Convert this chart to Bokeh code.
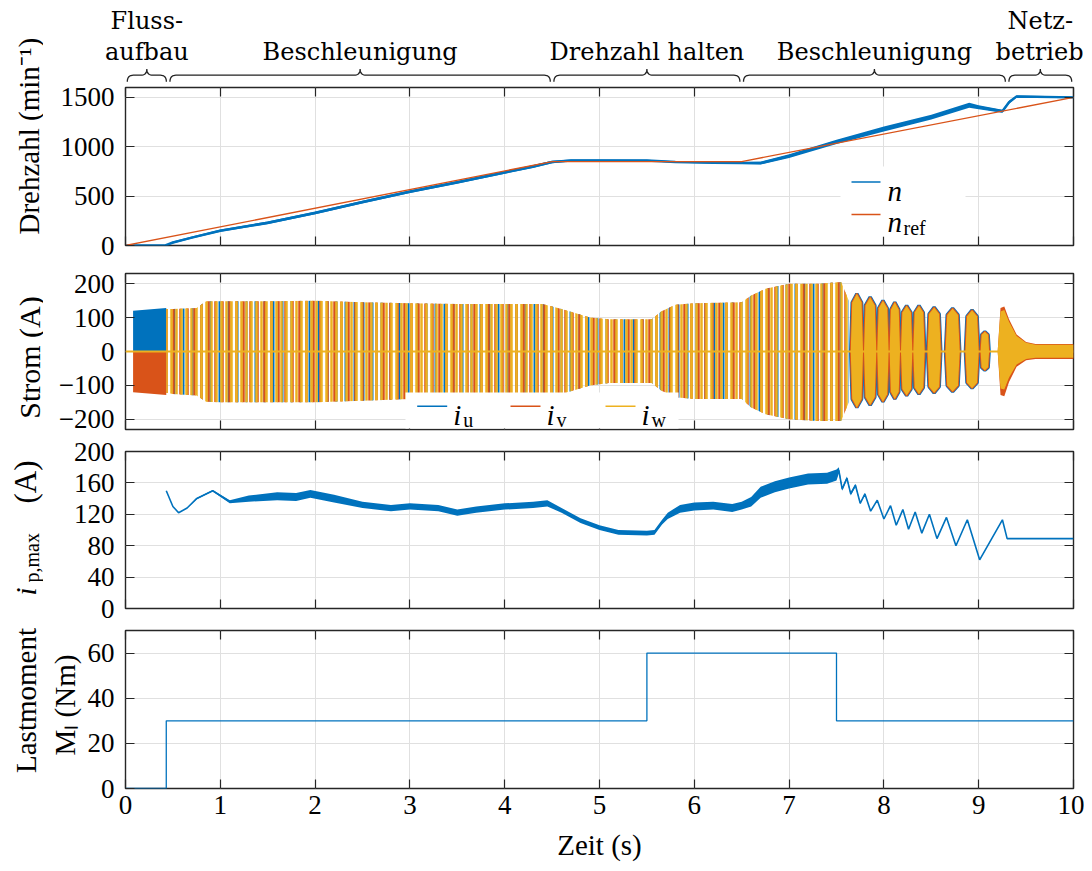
import numpy as np
from bokeh.plotting import figure
from bokeh.layouts import column, row
from bokeh.models import Range1d, LinearAxis, Label, BoxAnnotation, FixedTicker, Span, Title
from bokeh.core.properties import value
from bokeh.embed import file_html
from bokeh.resources import INLINE

# ---------------- data ----------------
phase_start = [0.0, 0.45, 4.5, 6.5, 9.3]
phase_end = [0.45, 4.5, 6.5, 9.3, 10.0]
phase_line1 = ["Fluss-", "", "", "", "Netz-"]
phase_line2 = ["aufbau", "Beschleunigung", "Drehzahl halten", "Beschleunigung", "betrieb"]

x_ticks = [0, 1, 2, 3, 4, 5, 6, 7, 8, 9, 10]
n_ticks = [0, 500, 1000, 1500]
i_ticks = [-200, -100, 0, 100, 200]
ip_ticks = [0, 40, 80, 120, 160, 200]
m_ticks = [0, 20, 40, 60]

# speed reference and measured speed
nref_t = [0.0, 4.5, 6.5, 10.0]
nref_v = [0, 850, 850, 1500]
n_t = [0.0, 0.42, 0.5, 0.7, 1.0, 1.5, 2.0, 2.5, 3.0, 3.5, 4.0, 4.3, 4.5, 4.7, 5.0,
       5.5, 5.8, 6.2, 6.5, 6.7, 7.0, 7.5, 8.0, 8.5, 8.9, 9.0, 9.25, 9.32, 9.4, 10.0]
n_v = [0, 0, 30, 80, 150, 230, 330, 440, 545, 640, 740, 800, 845, 860, 862,
       860, 845, 838, 835, 835, 905, 1050, 1180, 1300, 1420, 1400, 1360, 1450, 1510, 1500]
n_noise = [0, 0, 10, 10, 12, 14, 14, 14, 14, 14, 14, 14, 12, 10, 8,
           8, 8, 8, 10, 14, 20, 22, 25, 25, 25, 20, 15, 15, 10, 8]

# phase currents: flux build-up, envelope of the oscillating part, bursts, tail
flux_t = [0.08, 0.43]
iu_flux = [120, 128]
iv_flux = [-120, -128]
cur_t = [0.43, 0.5, 0.75, 0.85, 1.0, 1.5, 2.0, 2.5, 3.0, 3.5, 4.0, 4.4, 4.6, 4.9, 5.1,
         5.55, 5.65, 5.8, 6.0, 6.5, 6.6, 6.75, 7.0, 7.3, 7.55, 7.63]
cur_hi = [125, 125, 128, 148, 148, 148, 150, 145, 142, 140, 140, 140, 125, 100, 95,
          95, 118, 138, 142, 145, 165, 185, 200, 200, 205, 150]
cur_lo = [-122, -125, -130, -148, -150, -150, -150, -145, -140, -140, -138, -138, -125, -100, -93,
          -93, -115, -135, -140, -140, -165, -185, -200, -205, -205, -150]
burst_start = [7.65, 7.79, 7.93, 8.06, 8.18, 8.31, 8.46, 8.65, 8.86, 9.02]
burst_end = [7.78, 7.92, 8.05, 8.17, 8.30, 8.43, 8.60, 8.80, 9.00, 9.11]
burst_hi = [170, 160, 150, 145, 135, 135, 130, 127, 122, 58]
burst_lo = [-165, -158, -148, -140, -130, -125, -122, -118, -108, -55]
tail_t = [9.20, 9.23, 9.27, 9.32, 9.40, 9.50, 9.60, 10.0]
tail_hi = [0, 128, 133, 95, 50, 28, 22, 22]
tail_lo = [0, -128, -132, -90, -45, -26, -22, -22]

# peak current i_p,max (centre line and ripple half-width)
ip_t = [0.43, 0.5, 0.56, 0.65, 0.75, 0.92, 1.1, 1.3, 1.6, 1.8,
        1.95, 2.2, 2.5, 2.8, 3.0, 3.3, 3.5, 3.7, 4.0, 4.3,
        4.45, 4.6, 4.8, 5.0, 5.2, 5.5, 5.58, 5.66, 5.72, 5.85,
        6.0, 6.2, 6.4, 6.5, 6.6, 6.7, 6.85, 7.0, 7.2, 7.4,
        7.5, 7.525,
        7.56, 7.61, 7.65, 7.70, 7.75, 7.80, 7.86, 7.93, 8.00, 8.07,
        8.13, 8.20, 8.26, 8.33, 8.40, 8.48, 8.56, 8.66, 8.76, 8.88,
        9.01, 9.25, 9.30, 10.0]
ip_v = [150, 130, 122, 128, 140, 150, 136, 140, 143, 142,
        146, 140, 132, 128, 130, 128, 122, 126, 130, 132,
        134, 125, 112, 103, 97, 96, 97, 110, 118, 127,
        130, 131, 128, 131, 136, 148, 155, 160, 165, 166,
        170, 176,
        152, 166, 146, 157, 134, 146, 124, 138, 114, 131,
        106, 126, 101, 123, 96, 120, 89, 116, 80, 113,
        62, 113, 89, 89]
ip_ripple = [0, 0, 0, 0, 1, 1, 2, 4, 5, 5,
             5, 5, 4, 4, 4, 4, 4, 4, 4, 4,
             4, 3, 3, 3, 3, 3, 3, 3, 4, 5,
             5, 5, 5, 5, 6, 7, 7, 7, 7, 7,
             7, 4,
             2, 2, 2, 2, 1, 1, 0, 0, 0, 0,
             0, 0, 0, 0, 0, 0, 0, 0, 0, 0,
             0, 0, 0, 0]

# load torque
m_t = [0.0, 0.43, 0.43, 5.5, 5.5, 7.5, 7.5, 10.0]
m_v = [0, 0, 30, 30, 60, 60, 30, 30]

# ---------------- style ----------------
BLUE, ORANGE, YELLOW = "#0072BD", "#D95319", "#EDB120"
AX = "#262626"
GRID = "#e0e0e0"
TICK_FONT = "Liberation Serif"
LABEL_FONT = "Liberation Serif"
NOTE_FONT = "DejaVu Serif"
STRIP_W = 43
FRAME_W, LEFT, RIGHT = 948, 81, 11
X0, X1 = x_ticks[0], x_ticks[-1]
PX = (X1 - X0) / FRAME_W
HAS_STANDOFF = "standoff" in Title.properties()
# vertical budget (figure heights): top strip, four panels
H0_TOP, H0_FRAME = 68, 18
P_SPECS = [(1, 158, 14), (14, 156, 11), (11, 157, 11), (11, 158, 76)]
H_TOTAL = H0_TOP + H0_FRAME + sum(a + b + c for a, b, c in P_SPECS)


def style_axis(ax, ticks, show_labels, standoff=11, overrides=None):
    ax.ticker = FixedTicker(ticks=ticks)
    ax.major_tick_in = 9
    ax.major_tick_out = 0
    ax.minor_tick_in = 0
    ax.minor_tick_out = 0
    ax.major_tick_line_color = AX
    ax.major_tick_line_width = 1.2
    ax.axis_line_color = None
    if show_labels:
        ax.major_label_text_font = TICK_FONT
        ax.major_label_text_font_size = "27px"
        ax.major_label_text_color = "black"
        ax.major_label_standoff = standoff
        if overrides:
            ax.major_label_overrides = overrides
    else:
        ax.major_label_text_font_size = "1px"
        ax.major_label_text_alpha = 0
        ax.major_label_standoff = 0


def make_panel(y_lo, y_hi, yticks, spec, x_labels=False):
    b_top, frame_h, b_bottom = spec
    p = figure(frame_width=FRAME_W, frame_height=frame_h, x_range=Range1d(X0, X1),
               y_range=Range1d(y_lo, y_hi), min_border_left=LEFT, min_border_right=RIGHT,
               min_border_top=b_top, min_border_bottom=b_bottom, title=None,
               output_backend="svg", toolbar_location=None,
               background_fill_color="white", border_fill_color="white")
    top_ax = LinearAxis()
    right_ax = LinearAxis()
    p.add_layout(top_ax, "above")
    p.add_layout(right_ax, "right")
    overrides = {t: str(t).replace("-", "\u2212") for t in yticks if t < 0}
    style_axis(p.below[0], x_ticks, x_labels, standoff=7)
    style_axis(top_ax, x_ticks, False)
    style_axis(p.left[0], yticks, True, standoff=11, overrides=overrides)
    style_axis(right_ax, yticks, False)
    p.xgrid.ticker = FixedTicker(ticks=x_ticks)
    p.ygrid.ticker = FixedTicker(ticks=yticks)
    p.grid.grid_line_color = GRID
    p.grid.grid_line_width = 1
    p.outline_line_color = AX
    p.outline_line_width = 1.4
    return p


def text_at(p, text, x, y, size="29px", style="normal", align="left"):
    p.add_layout(Label(x=x, y=y, x_units="screen", y_units="screen", text=text,
                       text_font=LABEL_FONT, text_font_size=size, text_font_style=style,
                       text_align=align, text_baseline="alphabetic", text_color="black"))


def box(p, l, r, b, t, color):
    p.add_layout(BoxAnnotation(left=l, right=r, bottom=b, top=t, left_units="screen",
                               right_units="screen", bottom_units="screen", top_units="screen",
                               fill_color=color, fill_alpha=1, line_alpha=0))


# ---------------- left strip with the y-axis titles ----------------
strip = figure(frame_width=STRIP_W, frame_height=H_TOTAL, x_range=Range1d(0, STRIP_W),
               y_range=Range1d(0, H_TOTAL), min_border=0, title=None,
               x_axis_type=None, y_axis_type=None, output_backend="svg", toolbar_location=None)
strip.grid.visible = False
strip.outline_line_color = None


def vtext(px, py, text, size="29px", style="normal", align="left"):
    # px, py: offsets from the top-left corner of the whole chart, in pixels
    strip.text(x=[px], y=[H_TOTAL - py], text=[text], angle=np.pi / 2, text_align=align,
               text_baseline="alphabetic", text_font=value(LABEL_FONT), text_font_size=size,
               text_font_style=style, text_color="black")


vtext(28.7, 234, "Drehzahl (min\u207b\u00b9)")
vtext(28.7, 357, "Strom (A)", size="30px", align="center")
vtext(25, 595, "i", style="italic")
vtext(31.5, 582, "p,max", size="20px")
vtext(25, 503, "(A)", size="31px")
vtext(25, 700, "Lastmoment", align="center")

# ---------------- phase braces (top strip) ----------------
f0 = figure(frame_width=FRAME_W, frame_height=H0_FRAME, x_range=Range1d(X0, X1),
            y_range=Range1d(H0_FRAME, 0), min_border_left=LEFT, min_border_right=RIGHT,
            min_border_top=H0_TOP, min_border_bottom=0, title=None,
            x_axis_type=None, y_axis_type=None, output_backend="svg", toolbar_location=None)
f0.grid.visible = False
f0.outline_line_color = None
centers = [round((a + b) / 2, 4) for a, b in zip(phase_start, phase_end)]
for names, standoff in [(phase_line2, 3), (phase_line1, 0)]:
    ax = LinearAxis()
    ticks = [c for c, t in zip(centers, names) if t]
    ax.ticker = FixedTicker(ticks=ticks)
    ax.major_label_overrides = {c: t for c, t in zip(centers, names) if t}
    ax.major_tick_in = 0
    ax.major_tick_out = 0
    ax.minor_tick_in = 0
    ax.minor_tick_out = 0
    ax.axis_line_color = None
    ax.major_label_standoff = standoff
    ax.major_label_text_font = NOTE_FONT
    ax.major_label_text_font_size = "24px"
    ax.major_label_text_color = "black"
    f0.add_layout(ax, "above")

Y_END, Y_MID, Y_TIP = 13.3, 6.7, 0.5
tq = np.linspace(0, 1, 10)


def qb(p0, p1, p2):
    return ((1 - tq) ** 2 * p0[0] + 2 * (1 - tq) * tq * p1[0] + tq ** 2 * p2[0],
            (1 - tq) ** 2 * p0[1] + 2 * (1 - tq) * tq * p1[1] + tq ** 2 * p2[1])


bx, by = [], []
for a, b in zip(phase_start, phase_end):
    a2, b2 = a + 1.8 * PX, b - 1.8 * PX
    c = (a2 + b2) / 2
    r = 6 * PX
    parts = [qb((a2, Y_END), (a2, Y_MID), (a2 + r, Y_MID)),
             qb((c - r, Y_MID), (c, Y_MID), (c, Y_TIP)),
             qb((c, Y_TIP), (c, Y_MID), (c + r, Y_MID)),
             qb((b2 - r, Y_MID), (b2, Y_MID), (b2, Y_END))]
    bx.append(np.concatenate([q[0] for q in parts]).tolist())
    by.append(np.concatenate([q[1] for q in parts]).tolist())
f0.multi_line(xs=bx, ys=by, line_color="#222222", line_width=1.3)

# ---------------- panel 1: speed ----------------
p1 = make_panel(0, 1600, n_ticks, P_SPECS[0])
n_arr, nn = np.array(n_v, float), np.array(n_noise, float)
p1.varea(x=n_t, y1=(n_arr - nn).tolist(), y2=(n_arr + nn).tolist(), fill_color=BLUE, fill_alpha=1)
p1.line(n_t, n_v, line_color=BLUE, line_width=2.5)
p1.line(nref_t, nref_v, line_color=ORANGE, line_width=1.3)
box(p1, 715, 840, 9, 79, "white")
box(p1, 726, 755, 62.7, 64.2, BLUE)
box(p1, 726, 755, 30.2, 31.7, ORANGE)
text_at(p1, "n", 762, 55, style="italic")
text_at(p1, "n", 762, 24, style="italic")
text_at(p1, "ref", 778, 17.5, size="20px")

# ---------------- panel 2: phase currents ----------------
p2 = make_panel(-230, 230, i_ticks, P_SPECS[1])
p2.varea(x=flux_t, y1=[0] * len(flux_t), y2=iu_flux, fill_color=BLUE, fill_alpha=1)
p2.varea(x=flux_t, y1=iv_flux, y2=[0] * len(flux_t), fill_color=ORANGE, fill_alpha=1)
p2.varea(x=cur_t, y1=cur_lo, y2=cur_hi, fill_color=None, hatch_pattern="|",
         hatch_color=BLUE, hatch_scale=9, hatch_weight=2)
p2.varea(x=cur_t, y1=cur_lo, y2=cur_hi, fill_color=None, hatch_pattern="|",
         hatch_color=ORANGE, hatch_scale=7, hatch_weight=2.5)
p2.varea(x=cur_t, y1=cur_lo, y2=cur_hi, fill_color=None, hatch_pattern="|",
         hatch_color=YELLOW, hatch_scale=5, hatch_weight=2.5)
bxs, bys = [], []
for s, e, hi, lo in zip(burst_start, burst_end, burst_hi, burst_lo):
    w = e - s
    c = (s + e) / 2
    bxs.append([s, s + 0.12 * w, c, e - 0.12 * w, e, e - 0.12 * w, c, s + 0.12 * w])
    bys.append([0, 0.85 * hi, hi, 0.85 * hi, 0, 0.85 * lo, lo, 0.85 * lo])
p2.patches(xs=bxs, ys=bys, fill_alpha=0, line_color=BLUE, line_width=3.5)
p2.patches(xs=bxs, ys=bys, fill_alpha=0, line_color=ORANGE, line_width=2)
p2.patches(xs=bxs, ys=bys, fill_color=YELLOW, fill_alpha=1, line_alpha=0)
p2.varea(x=tail_t, y1=tail_lo, y2=tail_hi, fill_color=ORANGE, fill_alpha=1)
p2.varea(x=tail_t, y1=(np.array(tail_lo) * 0.85).tolist(), y2=(np.array(tail_hi) * 0.92).tolist(),
         fill_color=YELLOW, fill_alpha=1)
p2.add_layout(Span(location=0, dimension="width", line_color=YELLOW, line_width=2))
box(p2, 280, 553, 1, 37, "white")
for (l, col, sub) in [(291.7, BLUE, "u"), (385, ORANGE, "v"), (480, YELLOW, "w")]:
    box(p2, l, l + 30, 22.6, 24.1, col)
    text_at(p2, "i", l + 36, 15, style="italic")
    text_at(p2, sub, l + 46, 10, size="20px")

# ---------------- panel 3: i_p,max ----------------
p3 = make_panel(0, 200, ip_ticks, P_SPECS[2])
ipa, ipr = np.array(ip_v, float), np.array(ip_ripple, float)
p3.varea(x=ip_t, y1=(ipa - ipr).tolist(), y2=(ipa + ipr).tolist(), fill_color=BLUE, fill_alpha=1)
p3.line(ip_t, ip_v, line_color=BLUE, line_width=1.6)

# ---------------- panel 4: load torque ----------------
p4 = make_panel(0, 70, m_ticks, P_SPECS[3], x_labels=True)
p4.line(m_t, m_v, line_color=BLUE, line_width=1.3)
kw = dict(text="M\u2097 (Nm)", align="left", offset=33, text_font=LABEL_FONT,
          text_font_size="29px", text_font_style="normal", text_color="black")
if HAS_STANDOFF:
    kw["standoff"] = 7
p4.add_layout(Title(**kw), "left")
p4.below[0].axis_label = "Zeit (s)"
p4.below[0].axis_label_text_font = LABEL_FONT
p4.below[0].axis_label_text_font_size = "29px"
p4.below[0].axis_label_text_font_style = "normal"
p4.below[0].axis_label_text_color = "black"
p4.below[0].axis_label_standoff = 12

layout = row(strip, column(f0, p1, p2, p3, p4))
open("out.html", "w").write(file_html(layout, INLINE))
